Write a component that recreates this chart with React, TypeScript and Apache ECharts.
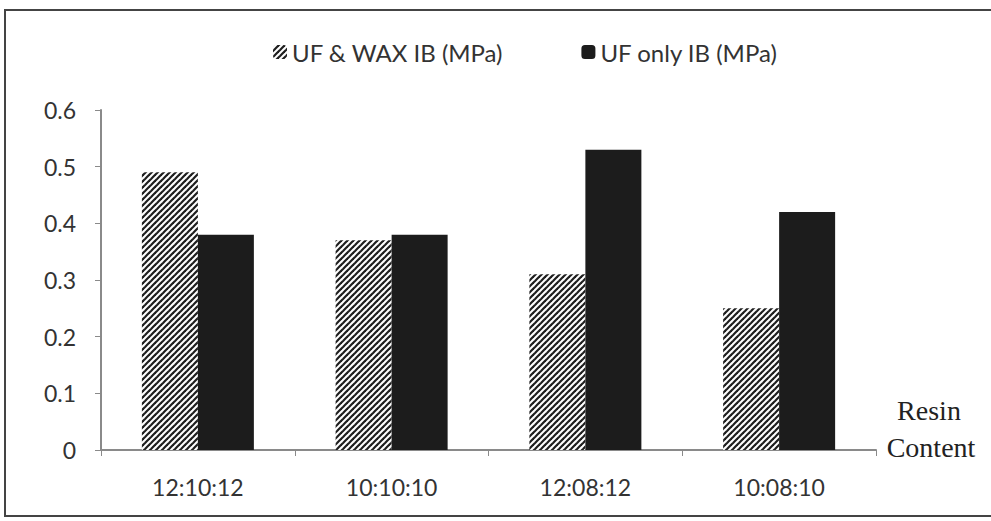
import React, { useEffect, useRef } from "react";
import * as echarts from "echarts";

const categories = ["12:10:12", "10:10:10", "12:08:12", "10:08:10"];
const waxValues = [0.49, 0.37, 0.31, 0.25];
const onlyValues = [0.38, 0.38, 0.53, 0.42];
const seriesNames = ["UF & WAX IB (MPa)", "UF only IB (MPa)"];
const yTicks = { min: 0, max: 0.6, interval: 0.1 };
const axisTitle = ["Resin", "Content"];

function makeHatch(): HTMLCanvasElement {
  const c = document.createElement("canvas");
  const s = 6;
  c.width = s;
  c.height = s;
  const ctx = c.getContext("2d")!;
  ctx.fillStyle = "#ffffff";
  ctx.fillRect(0, 0, s, s);
  ctx.strokeStyle = "#1e1e1e";
  ctx.lineWidth = 2.2;
  for (const off of [-s, 0, s]) {
    ctx.beginPath();
    ctx.moveTo(off - 1, s + 1);
    ctx.lineTo(off + s + 1, -1);
    ctx.stroke();
  }
  return c;
}

export default function App() {
  const ref = useRef<HTMLDivElement>(null);
  useEffect(() => {
    if (!ref.current) return;
    const chart = echarts.init(ref.current, null, { renderer: "svg" });
    const hatch = makeHatch();
    const font = "Lato";
    const fs = 23;
    chart.setOption({
      animation: false,
      backgroundColor: "#ffffff",
      textStyle: { fontFamily: font },
      legend: {
        left: 268,
        top: 35,
        itemWidth: 14,
        itemHeight: 14,
        itemGap: 78,
        textStyle: { fontFamily: font, fontSize: 24, color: "#333" },
        data: seriesNames,
      },
      grid: { left: 101, right: 115, top: 110, bottom: 71 },
      xAxis: {
        type: "category",
        data: categories,
        axisLine: { lineStyle: { color: "#8a8a8a", width: 2 } },
        axisTick: { show: true, length: 6, lineStyle: { color: "#8a8a8a" } },
        axisLabel: { fontFamily: font, fontSize: fs, color: "#333", margin: 25 },
      },
      yAxis: {
        type: "value",
        min: yTicks.min,
        max: yTicks.max,
        interval: yTicks.interval,
        axisLine: { show: true, lineStyle: { color: "#8a8a8a", width: 2 } },
        axisTick: { show: true, length: 6, lineStyle: { color: "#8a8a8a" } },
        splitLine: { show: false },
        axisLabel: {
          fontFamily: font,
          fontSize: fs,
          color: "#333",
          margin: 25,
          formatter: (v: number) => (v === 0 ? "0" : v.toFixed(1)),
        },
      },
      series: [
        {
          name: seriesNames[0],
          type: "bar",
          data: waxValues,
          barWidth: 56,
          barGap: "0%",
          itemStyle: { color: { image: hatch, repeat: "repeat" } },
        },
        {
          name: seriesNames[1],
          type: "bar",
          data: onlyValues,
          barWidth: 56,
          barGap: "0%",
          itemStyle: { color: "#1c1c1c" },
        },
      ],
      graphic: [
        {
          type: "rect",
          shape: { x: 5, y: 10, width: 1000, height: 506 },
          style: { fill: "none", stroke: "#444", lineWidth: 2 },
          silent: true,
        },
        {
          type: "text",
          x: 929,
          y: 410,
          style: {
            text: axisTitle[0],
            font: "28px 'Liberation Serif', serif",
            fill: "#222",
            align: "center",
            verticalAlign: "middle",
          },
        },
        {
          type: "text",
          x: 931,
          y: 447,
          style: {
            text: axisTitle[1],
            font: "28px 'Liberation Serif', serif",
            fill: "#222",
            align: "center",
            verticalAlign: "middle",
          },
        },
      ],
    });
    return () => chart.dispose();
  }, []);
  return <div ref={ref} style={{ width: 991, height: 521, position: "absolute", left: 0, top: 0 }} />;
}
